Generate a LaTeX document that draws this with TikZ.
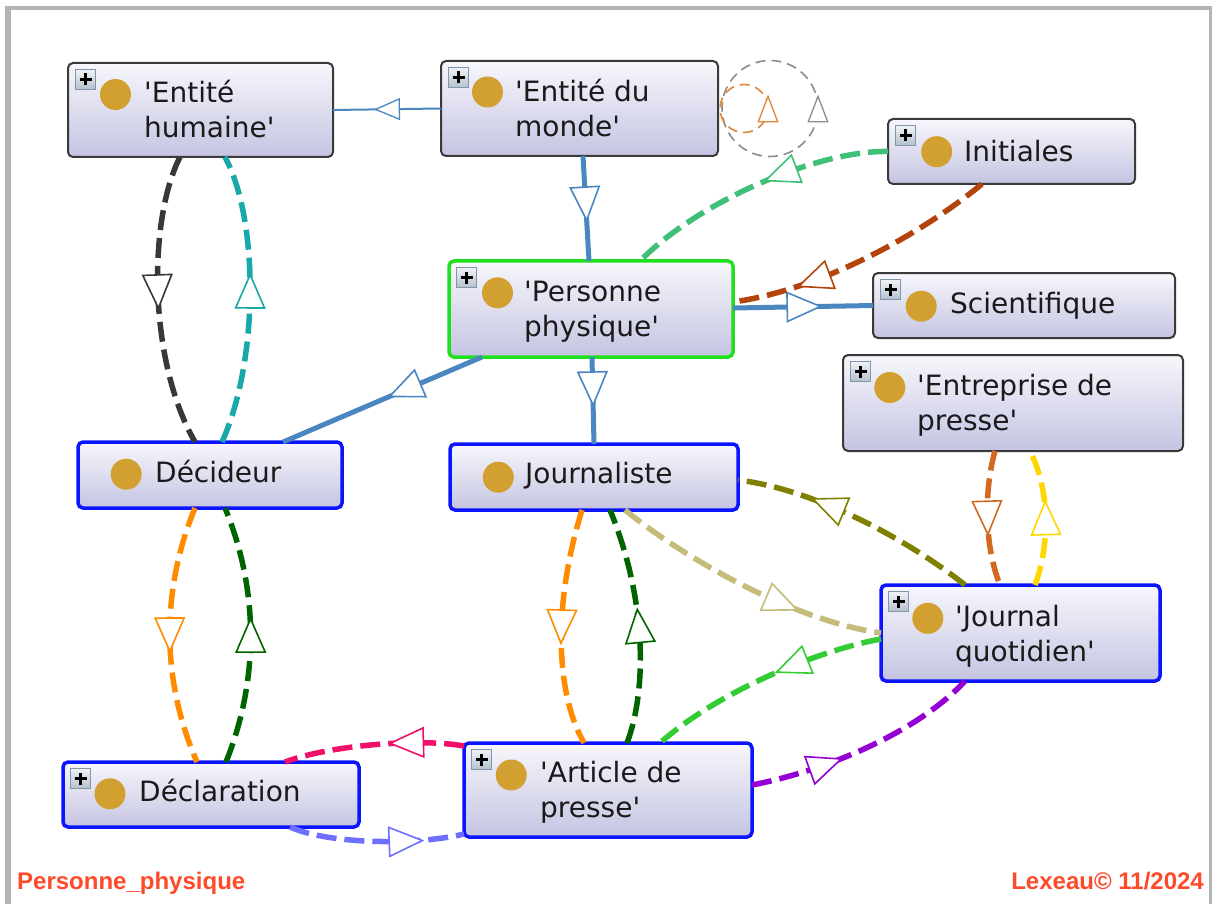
\documentclass[tikz,border=0pt]{standalone}
\usepackage{fontspec}
\usetikzlibrary{arrows.meta,decorations.markings}
\newfontfamily\boxfont{DejaVu Sans}
\newfontfamily\footfont{Liberation Sans}
\definecolor{boxtop}{HTML}{F7F7FC}
\definecolor{boxbot}{HTML}{C4C4E2}
\definecolor{gborder}{HTML}{3A3A3A}
\definecolor{bborder}{HTML}{0A14FF}
\definecolor{grborder}{HTML}{1EE01E}
\definecolor{dotc}{HTML}{D1A030}
\definecolor{txt}{HTML}{1A1A1A}
\definecolor{footc}{HTML}{FF4A2A}
\definecolor{frameg}{HTML}{B4B4B4}
\definecolor{plustop}{HTML}{F0F3F6}
\definecolor{plusbot}{HTML}{B4C0CC}
\definecolor{plusbd}{HTML}{8096AC}
\definecolor{cblue}{HTML}{4A86C0}
\definecolor{cblk}{HTML}{383838}
\definecolor{cteal}{HTML}{18A8A8}
\definecolor{corange}{HTML}{FF8C00}
\definecolor{cdgreen}{HTML}{006400}
\definecolor{cchoc}{HTML}{D2691E}
\definecolor{cyellow}{HTML}{FFD700}
\definecolor{cseagreen}{HTML}{40BF78}
\definecolor{cbrown}{HTML}{B2440C}
\definecolor{ckhaki}{HTML}{C4BC78}
\definecolor{colive}{HTML}{808000}
\definecolor{clime}{HTML}{33CC33}
\definecolor{cpurple}{HTML}{9400D3}
\definecolor{cpink}{HTML}{F0106A}
\definecolor{cperi}{HTML}{6E6EFF}
\definecolor{cloopg}{HTML}{8C8C8C}
\definecolor{cloopo}{HTML}{E0863A}
\tikzset{
  bigtri/.tip={Triangle[length=36pt,width=31pt,fill=white,line width=1.6pt]},
  smalltri/.tip={Triangle[length=26pt,width=22pt,fill=white,line width=1.3pt]},
  looptri/.tip={Triangle[length=28pt,width=21pt,fill=white,line width=1.3pt]},
  ma/.style={postaction={decorate},decoration={markings,mark=at position #1 with {\arrow[xshift=18pt]{bigtri}}}},
  mas/.style={postaction={decorate},decoration={markings,mark=at position #1 with {\arrow[xshift=13pt]{smalltri}}}},
  mal/.style={postaction={decorate},decoration={markings,mark=at position #1 with {\arrow[xshift=14pt]{looptri}}}},
  box/.style={rectangle,rounded corners=5pt,top color=boxtop,bottom color=boxbot,inner sep=0pt,outer sep=0pt},
  gbox/.style={box,draw=gborder,line width=2pt},
  bbox/.style={box,draw=bborder,line width=3.5pt},
  grbox/.style={box,draw=grborder,line width=3.5pt},
  dot/.style={circle,fill=dotc,minimum size=31pt,inner sep=0pt},
  lab/.style={anchor=base west,inner sep=0pt,font=\boxfont\fontsize{28}{35}\selectfont,align=left,text=txt},
  plusbox/.style={rectangle,anchor=north west,minimum size=20pt,inner sep=0pt,top color=plustop,bottom color=plusbot,draw=plusbd,line width=1pt},
  plussign/.style={draw=black,line width=2.2pt},
  foot/.style={inner sep=0pt,font=\footfont\bfseries\fontsize{24}{28}\selectfont,text=footc},
  sol/.style={draw=cblue,line width=5pt},
  solthin/.style={draw=cblue,line width=2pt},
  dl/.style={line width=5.5pt,dash pattern=on 20pt off 8pt},
  loopline/.style={line width=1.6pt,dash pattern=on 10pt off 6pt},
}
\newcommand\plusicon[1]{%
  \node[plusbox] (#1-plus) at ([xshift=7pt,yshift=-6pt]#1.north west) {};
  \draw[plussign] ([xshift=-6pt]#1-plus.center) -- ([xshift=6pt]#1-plus.center);
  \draw[plussign] ([yshift=-6pt]#1-plus.center) -- ([yshift=6pt]#1-plus.center);
}
\begin{document}
\begin{tikzpicture}[x=1pt,y=-1pt]
\useasboundingbox (0,0) rectangle (1213,904);
\fill[white] (0,0) rectangle (1213,904);
% frame
\fill[frameg] (5,6) rectangle (1212,10);
\fill[frameg] (5,6) rectangle (11,904);
\fill[frameg] (1209,6) rectangle (1212,904);

% nodes
\node[gbox,minimum width=265pt,minimum height=94pt] (eh) at (200.5,110) {};
\node[gbox,minimum width=277pt,minimum height=95pt] (em) at (579.5,108.5) {};
\node[gbox,minimum width=247pt,minimum height=65pt] (ini) at (1011.5,151.5) {};
\node[grbox,minimum width=284pt,minimum height=96pt] (pp) at (591,309) {};
\node[gbox,minimum width=302pt,minimum height=65pt] (sci) at (1024,305.5) {};
\node[gbox,minimum width=340pt,minimum height=96pt] (ent) at (1013,403) {};
\node[bbox,minimum width=264pt,minimum height=66pt] (dec) at (210,475) {};
\node[bbox,minimum width=288pt,minimum height=66pt] (jou) at (594,477) {};
\node[bbox,minimum width=279pt,minimum height=96pt] (jq) at (1020.5,633) {};
\node[bbox,minimum width=296pt,minimum height=65pt] (decl) at (211,794.5) {};
\node[bbox,minimum width=288pt,minimum height=94pt] (art) at (608,790) {};

\plusicon{eh}\plusicon{em}\plusicon{ini}\plusicon{pp}\plusicon{sci}
\plusicon{ent}\plusicon{jq}\plusicon{decl}\plusicon{art}

\node[dot] (eh-dot) at (115.5,94.5) {};
\node[dot] (em-dot) at (487.5,92) {};
\node[dot] (ini-dot) at (936.7,151.7) {};
\node[dot] (pp-dot) at (497.5,292.8) {};
\node[dot] (sci-dot) at (921.2,306.2) {};
\node[dot] (ent-dot) at (889.8,387.5) {};
\node[dot] (dec-dot) at (126.2,474.2) {};
\node[dot] (jou-dot) at (498.3,477.2) {};
\node[dot] (jq-dot) at (927.8,618.3) {};
\node[dot] (decl-dot) at (110,793.8) {};
\node[dot] (art-dot) at (511.2,775) {};

% two-line labels: the base anchor is the baseline of the last line
\node[lab] (eh-t) at (144,138) {'Entité\\humaine'};
\node[lab] (em-t) at (515,136.7) {'Entité du\\monde'};
\node[lab] (ini-t) at (964,161.7) {Initiales};
\node[lab] (pp-t) at (524,336.7) {'Personne\\physique'};
\node[lab] (sci-t) at (950,313.5) {Scientifique};
\node[lab] (ent-t) at (917,430) {'Entreprise de\\presse'};
\node[lab] (dec-t) at (155,482) {Décideur};
\node[lab] (jou-t) at (525,483.3) {Journaliste};
\node[lab] (jq-t) at (955,661.7) {'Journal\\quotidien'};
\node[lab] (decl-t) at (139,801.7) {Déclaration};
\node[lab] (art-t) at (540,817.5) {'Article de\\presse'};

% footer
\node[foot,anchor=base west] (fl) at (17,889) {Personne\_physique};
\node[foot,anchor=base east] (fr) at (1204,889) {Lexeau© 11/2024};

% solid blue connectors
\draw[solthin,mas=0.5] (em.west) -- (eh.east);
\draw[sol,ma=0.46] ([xshift=3.5pt]em.south) -- ([xshift=-2pt]pp.north);
\draw[sol,ma=0.37] ([xshift=1pt]pp.south) -- (jou.north);
\draw[sol,ma=0.39] ([xshift=-109pt]pp.south) -- ([xshift=73pt]dec.north);
\draw[sol,ma=0.51] ([yshift=1pt]pp.east) -- (sci.west);

% self loops
\draw[loopline,draw=cloopg,mal=0] ([xshift=52pt]em.east) circle[radius=48pt];
\draw[loopline,draw=cloopo,mal=0] ([xshift=26pt]em.east) circle[radius=24pt];

% dashed connectors
\draw[dl,draw=cblk,ma=0.47] ([xshift=-20.5pt]eh.south) .. controls (148,220) and (148,360) .. ([xshift=-15pt]dec.north);
\draw[dl,draw=cteal,ma=0.53] ([xshift=12pt]dec.north) .. controls (259,360) and (259,220) .. ([xshift=24.5pt]eh.south);
\draw[dl,draw=corange,ma=0.5] ([xshift=-15pt]dec.south) .. controls (161,590) and (161,680) .. ([xshift=-14pt]decl.north);
\draw[dl,draw=cdgreen,ma=0.5] ([xshift=15pt]decl.north) .. controls (259,680) and (259,590) .. ([xshift=15pt]dec.south);
\draw[dl,draw=corange,ma=0.5] ([xshift=-12pt]jou.south) .. controls (554,600) and (554,690) .. ([xshift=-24pt]art.north);
\draw[dl,draw=cdgreen,ma=0.5] ([xshift=19pt]art.north) .. controls (647,690) and (647,600) .. ([xshift=16pt]jou.south);
\draw[dl,draw=cchoc,ma=0.5] ([xshift=-18pt]ent.south) .. controls (984,490) and (984,545) .. ([xshift=-20.5pt]jq.north);
\draw[dl,draw=cyellow,ma=0.5] ([xshift=14.5pt]jq.north) .. controls (1050,545) and (1050,490) .. ([xshift=17pt]ent.south);
\draw[dl,draw=cseagreen,ma=0.4] (ini.west) .. controls (820,150) and (700,200) .. ([xshift=49pt]pp.north);
\draw[dl,draw=cbrown,ma=0.7] ([xshift=-29.5pt]ini.south) .. controls (920,235) and (820,290) .. ([yshift=7pt]pp.east);
\draw[dl,draw=ckhaki,ma=0.64] ([xshift=31pt]jou.south) .. controls (680,555) and (790,620) .. (jq.west);
\draw[dl,draw=colive,ma=0.63] ([xshift=-55.5pt]jq.north) .. controls (915,545) and (820,490) .. ([yshift=-3pt]jou.east);
\draw[dl,draw=clime,ma=0.38] ([yshift=-6pt]jq.west) .. controls (820,650) and (720,690) .. ([xshift=52pt]art.north);
\draw[dl,draw=cpurple,ma=0.32] ([yshift=5pt]art.east) .. controls (830,770) and (920,730) .. ([xshift=-55.5pt]jq.south);
\draw[dl,draw=cpink,ma=0.32] ([yshift=-3pt]art.north west) .. controls (420,738) and (330,745) .. ([xshift=74pt]decl.north);
\draw[dl,draw=cperi,ma=0.67] ([xshift=79pt]decl.south) .. controls (330,845) and (420,845) .. ([yshift=3pt]art.south west);
\end{tikzpicture}
\end{document}
